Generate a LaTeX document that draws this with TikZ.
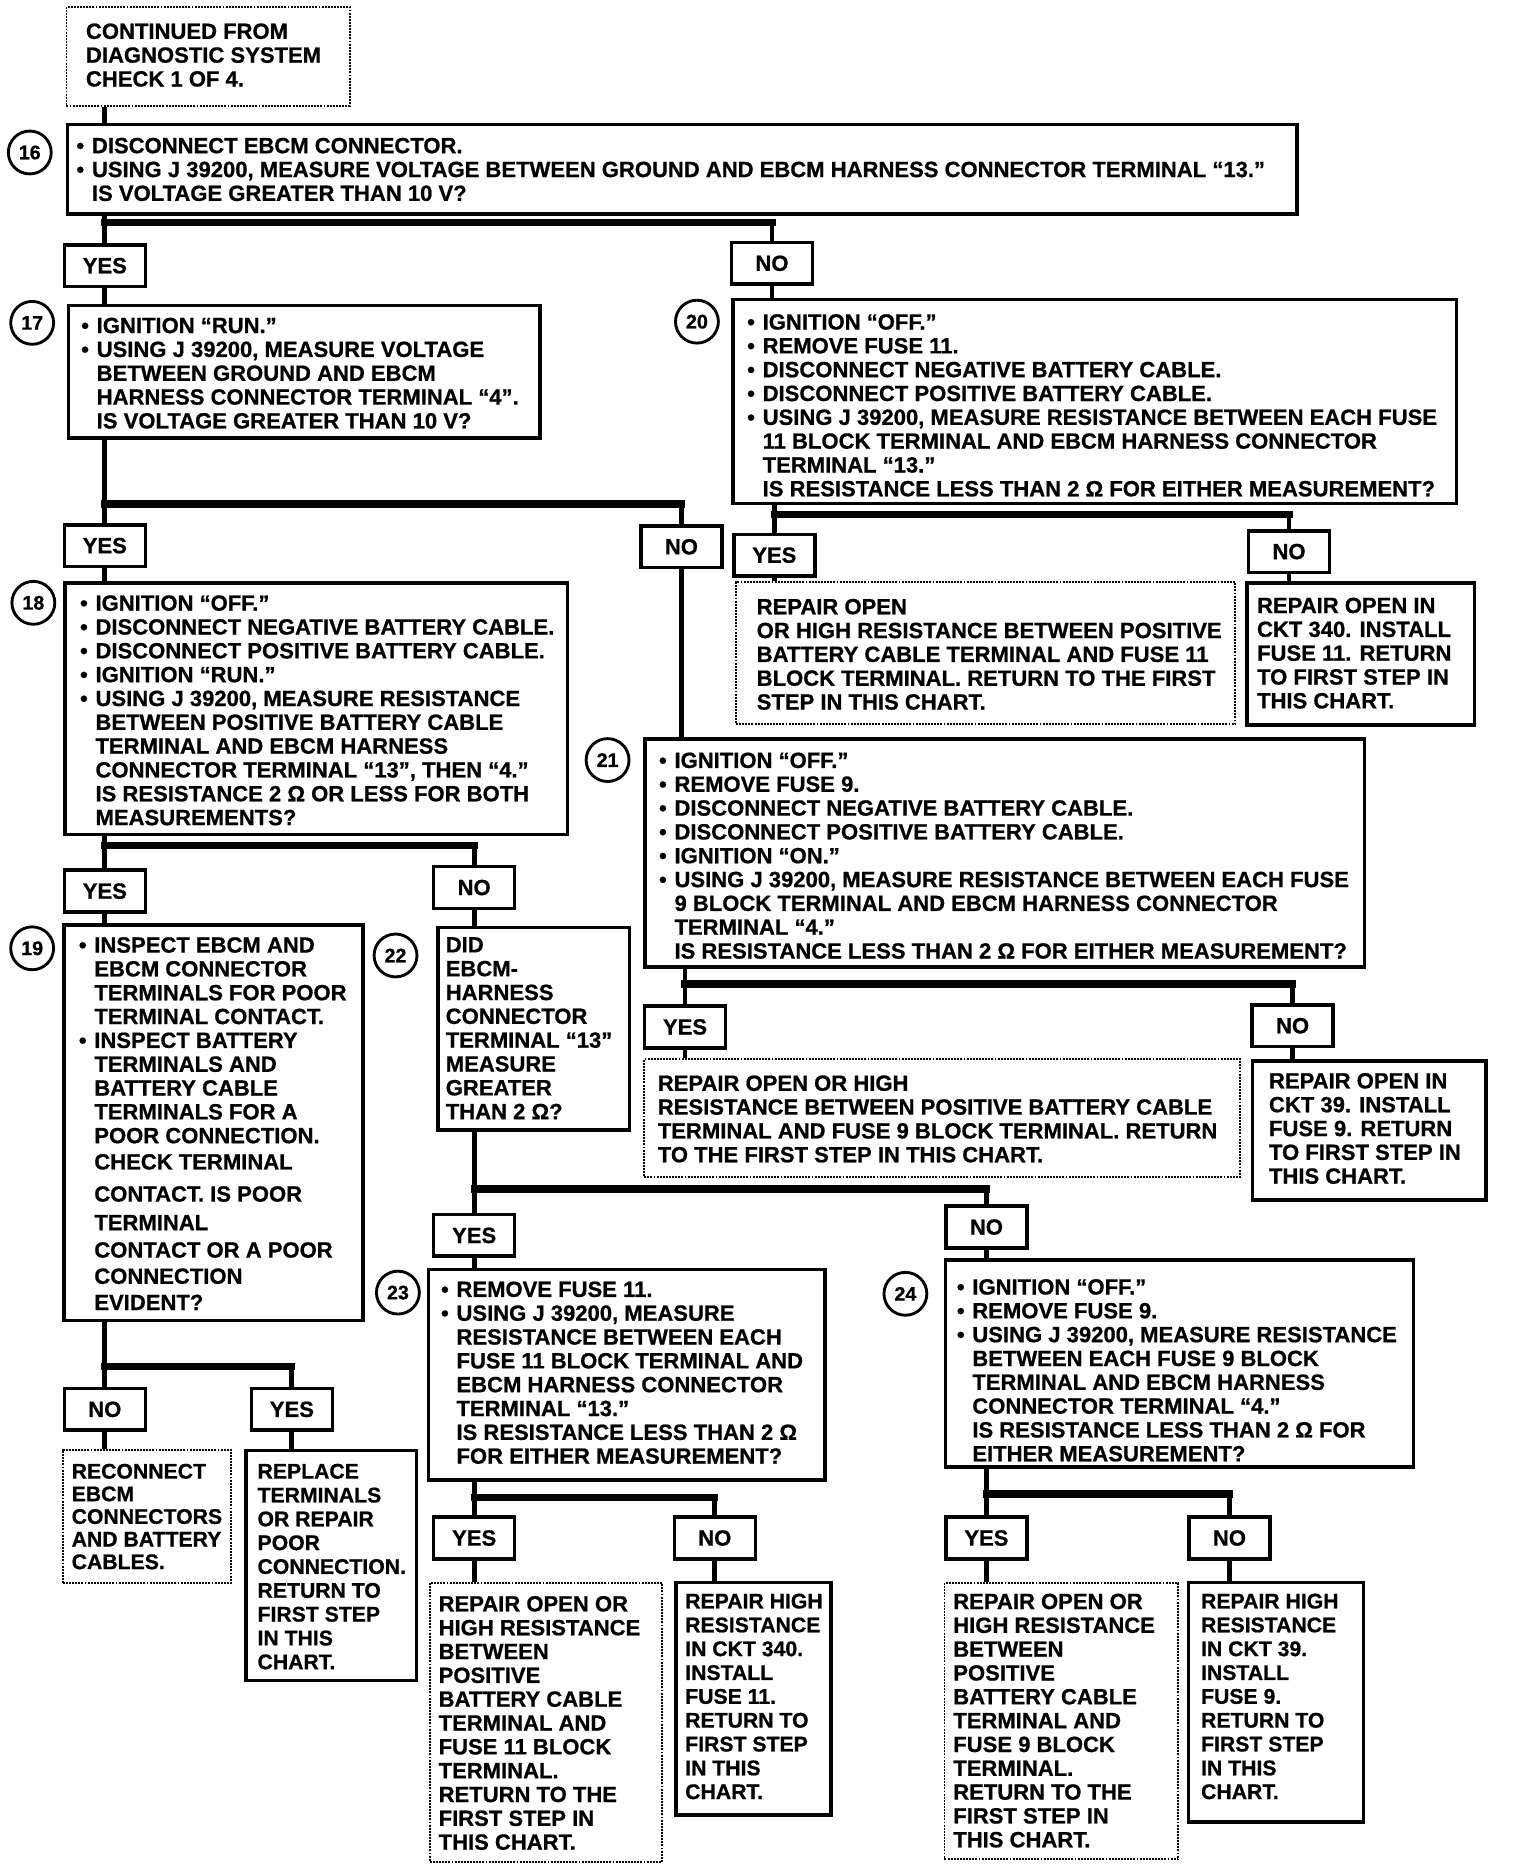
\documentclass[tikz,border=0pt]{standalone}
\usepackage{fontspec}
\setmainfont{Liberation Sans}[BoldFeatures={FakeBold=0.8}]
\newcommand{\bult}{\makebox[13pt][l]{•}}
\newcommand{\indt}{\hspace*{13pt}}
\begin{document}
\begin{tikzpicture}[x=1pt,y=-1pt,
  stepbox/.style={draw,line width=3pt,anchor=north west,inner sep=0pt},
  dotbox/.style={draw,line width=1.6pt,densely dotted,anchor=north west,inner sep=0pt},
  txt/.style={anchor=north west,inner sep=0pt,align=left,font=\fontsize{18.5}{20}\selectfont\bfseries},
  slim/.style={txt,font=\fontsize{17.8}{20}\selectfont\bfseries},
  ans/.style={draw,line width=3pt,minimum width=68pt,minimum height=35pt,inner sep=0pt,font=\fontsize{18.5}{20}\selectfont\bfseries},
  num/.style={draw,circle,line width=2.4pt,minimum size=36pt,inner sep=0pt,font=\fontsize{16.5}{17}\selectfont\bfseries},
  link/.style={line width=4pt},
  fork/.style={line width=6pt,line cap=rect}]
\useasboundingbox (0,0) rectangle (1276,1568);

% start
\node[dotbox,minimum width=238pt,minimum height=83pt] (s0) at (55,5) {};
\node[txt] (ts0) at (72,19.5) {CONTINUED FROM\\DIAGNOSTIC SYSTEM\\CHECK 1 OF 4.};

% step 16
\node[num] (c16) at (25,128) {16};
\node[stepbox,minimum width=1032pt,minimum height=75pt] (b16) at (55,103) {};
\node[txt] (t16) at (64,115.5) {\bult DISCONNECT EBCM CONNECTOR.\\
  \bult USING J 39200, MEASURE VOLTAGE BETWEEN GROUND AND EBCM HARNESS CONNECTOR TERMINAL “13.”\\
  \indt IS VOLTAGE GREATER THAN 10 V?};
\coordinate (k16) at (88,187);
\node[ans] (yes16) at (88,223) {YES};
\node[ans] (no16) at (648,221) {NO};

% step 17
\node[num] (c17) at (27,271) {17};
\node[stepbox,minimum width=396pt,minimum height=111pt] (b17) at (56,255) {};
\node[txt] (t17) at (68,266.5) {\bult IGNITION “RUN.”\\
  \bult USING J 39200, MEASURE VOLTAGE\\
  \indt BETWEEN GROUND AND EBCM\\
  \indt HARNESS CONNECTOR TERMINAL “4”.\\
  \indt IS VOLTAGE GREATER THAN 10 V?};
\coordinate (k17) at (88,423);
\node[ans] (yes17) at (88,458) {YES};
\node[ans] (no17) at (572,459) {NO};

% step 20
\node[num] (c20) at (585,270) {20};
\node[stepbox,minimum width=607pt,minimum height=171pt] (b20) at (614,250) {};
\node[txt] (t20) at (627,263.5) {\bult IGNITION “OFF.”\\
  \bult REMOVE FUSE 11.\\
  \bult DISCONNECT NEGATIVE BATTERY CABLE.\\
  \bult DISCONNECT POSITIVE BATTERY CABLE.\\
  \bult USING J 39200, MEASURE RESISTANCE BETWEEN EACH FUSE\\
  \indt 11 BLOCK TERMINAL AND EBCM HARNESS CONNECTOR\\
  \indt TERMINAL “13.”\\
  \indt IS RESISTANCE LESS THAN 2 Ω FOR EITHER MEASUREMENT?};
\coordinate (k20) at (650,432);
\node[ans] (yes20) at (650,466) {YES};
\node[ans] (no20) at (1082,463) {NO};
\node[dotbox,minimum width=419pt,minimum height=119pt] (r20y) at (617,488) {};
\node[txt] (tr20y) at (635,502.5) {REPAIR OPEN\\
  OR HIGH RESISTANCE BETWEEN POSITIVE\\
  BATTERY CABLE TERMINAL AND FUSE 11\\
  BLOCK TERMINAL. RETURN TO THE FIRST\\
  STEP IN THIS CHART.};
\node[stepbox,minimum width=191pt,minimum height=119pt] (r20n) at (1045,488) {};
\node[txt] (tr20n) at (1055,501.5) {REPAIR OPEN IN\\CKT 340. INSTALL\\FUSE 11. RETURN\\TO FIRST STEP IN\\THIS CHART.};

% step 18
\node[num] (c18) at (28,506) {18};
\node[stepbox,minimum width=422pt,minimum height=211pt] (b18) at (53,488) {};
\node[txt] (t18) at (67,499.5) {\bult IGNITION “OFF.”\\
  \bult DISCONNECT NEGATIVE BATTERY CABLE.\\
  \bult DISCONNECT POSITIVE BATTERY CABLE.\\
  \bult IGNITION “RUN.”\\
  \bult USING J 39200, MEASURE RESISTANCE\\
  \indt BETWEEN POSITIVE BATTERY CABLE\\
  \indt TERMINAL AND EBCM HARNESS\\
  \indt CONNECTOR TERMINAL “13”, THEN “4.”\\
  \indt IS RESISTANCE 2 Ω OR LESS FOR BOTH\\
  \indt MEASUREMENTS?};
\coordinate (k18) at (88,710);
\node[ans] (yes18) at (88,748) {YES};
\node[ans] (no18) at (398,745) {NO};

% step 21
\node[num] (c21) at (510,638) {21};
\node[stepbox,minimum width=604pt,minimum height=191pt] (b21) at (540,619) {};
\node[txt] (t21) at (553,631.5) {\bult IGNITION “OFF.”\\
  \bult REMOVE FUSE 9.\\
  \bult DISCONNECT NEGATIVE BATTERY CABLE.\\
  \bult DISCONNECT POSITIVE BATTERY CABLE.\\
  \bult IGNITION “ON.”\\
  \bult USING J 39200, MEASURE RESISTANCE BETWEEN EACH FUSE\\
  \indt 9 BLOCK TERMINAL AND EBCM HARNESS CONNECTOR\\
  \indt TERMINAL “4.”\\
  \indt IS RESISTANCE LESS THAN 2 Ω FOR EITHER MEASUREMENT?};
\coordinate (k21) at (575,826);
\node[ans] (yes21) at (575,862) {YES};
\node[ans] (no21) at (1085,861) {NO};
\node[dotbox,minimum width=500pt,minimum height=99pt] (r21y) at (540,888) {};
\node[txt] (tr21y) at (552,902.5) {REPAIR OPEN OR HIGH\\
  RESISTANCE BETWEEN POSITIVE BATTERY CABLE\\
  TERMINAL AND FUSE 9 BLOCK TERMINAL. RETURN\\
  TO THE FIRST STEP IN THIS CHART.};
\node[stepbox,minimum width=196pt,minimum height=117pt] (r21n) at (1050,889) {};
\node[txt] (tr21n) at (1065,900.5) {REPAIR OPEN IN\\CKT 39. INSTALL\\FUSE 9. RETURN\\TO FIRST STEP IN\\THIS CHART.};

% step 19
\node[num] (c19) at (27,796) {19};
\node[stepbox,minimum width=251pt,minimum height=332pt] (b19) at (52,775) {};
\node[txt] (t19) at (66,786.5) {\bult INSPECT EBCM AND\\
  \indt EBCM CONNECTOR\\
  \indt TERMINALS FOR POOR\\
  \indt TERMINAL CONTACT.\\
  \bult INSPECT BATTERY\\
  \indt TERMINALS AND\\
  \indt BATTERY CABLE\\
  \indt TERMINALS FOR A\\
  \indt POOR CONNECTION.\\[2pt]
  \indt CHECK TERMINAL\\[7pt]
  \indt CONTACT. IS POOR\\[4pt]
  \indt TERMINAL\\[3pt]
  \indt CONTACT OR A POOR\\[2pt]
  \indt CONNECTION\\[2pt]
  \indt EVIDENT?};
\coordinate (k19) at (88,1147);
\node[ans] (no19) at (88,1183) {NO};
\node[ans] (yes19) at (245,1183) {YES};
\node[dotbox,minimum width=141pt,minimum height=112pt] (r19n) at (52,1216) {};
\node[slim,font=\fontsize{17.8}{19}\selectfont\bfseries] (tr19n) at (60,1228.5) {RECONNECT\\EBCM\\CONNECTORS\\AND BATTERY\\CABLES.};
\node[stepbox,minimum width=143pt,minimum height=193pt] (r19y) at (205,1216) {};
\node[slim] (tr19y) at (216,1228.5) {REPLACE\\TERMINALS\\OR REPAIR\\POOR\\CONNECTION.\\RETURN TO\\FIRST STEP\\IN THIS\\CHART.};

% step 22
\node[num] (c22) at (332,802) {22};
\node[stepbox,minimum width=161pt,minimum height=170pt] (b22) at (366,777) {};
\node[txt] (t22) at (374,786.5) {DID\\EBCM-\\HARNESS\\CONNECTOR\\TERMINAL “13”\\MEASURE\\GREATER\\THAN 2 Ω?};
\coordinate (k22) at (398,998);
\node[ans] (yes22) at (398,1037) {YES};
\node[ans] (no22) at (828,1030) {NO};

% step 23
\node[num] (c23) at (334,1085) {23};
\node[stepbox,minimum width=333pt,minimum height=177pt] (b23) at (358,1064) {};
\node[txt] (t23) at (370,1075.5) {\bult REMOVE FUSE 11.\\
  \bult USING J 39200, MEASURE\\
  \indt RESISTANCE BETWEEN EACH\\
  \indt FUSE 11 BLOCK TERMINAL AND\\
  \indt EBCM HARNESS CONNECTOR\\
  \indt TERMINAL “13.”\\
  \indt IS RESISTANCE LESS THAN 2 Ω\\
  \indt FOR EITHER MEASUREMENT?};
\coordinate (k23) at (398,1257);
\node[ans] (yes23) at (398,1291) {YES};
\node[ans] (no23) at (600,1291) {NO};
\node[dotbox,minimum width=195pt,minimum height=234pt] (r23y) at (360,1328) {};
\node[txt] (tr23y) at (368,1339.5) {REPAIR OPEN OR\\HIGH RESISTANCE\\BETWEEN\\POSITIVE\\BATTERY CABLE\\TERMINAL AND\\FUSE 11 BLOCK\\TERMINAL.\\RETURN TO THE\\FIRST STEP IN\\THIS CHART.};
\node[stepbox,minimum width=130pt,minimum height=195pt] (r23n) at (566,1327) {};
\node[slim] (tr23n) at (575,1337.5) {REPAIR HIGH\\RESISTANCE\\IN CKT 340.\\INSTALL\\FUSE 11.\\RETURN TO\\FIRST STEP\\IN THIS\\CHART.};

% step 24
\node[num] (c24) at (760,1086) {24};
\node[stepbox,minimum width=393pt,minimum height=174pt] (b24) at (792,1056) {};
\node[txt] (t24) at (803,1073.5) {\bult IGNITION “OFF.”\\
  \bult REMOVE FUSE 9.\\
  \bult USING J 39200, MEASURE RESISTANCE\\
  \indt BETWEEN EACH FUSE 9 BLOCK\\
  \indt TERMINAL AND EBCM HARNESS\\
  \indt CONNECTOR TERMINAL “4.”\\
  \indt IS RESISTANCE LESS THAN 2 Ω FOR\\
  \indt EITHER MEASUREMENT?};
\coordinate (k24) at (828,1254);
\node[ans] (yes24) at (828,1291) {YES};
\node[ans] (no24) at (1032,1291) {NO};
\node[dotbox,minimum width=196pt,minimum height=232pt] (r24y) at (792,1328) {};
\node[txt] (tr24y) at (800,1337.5) {REPAIR OPEN OR\\HIGH RESISTANCE\\BETWEEN\\POSITIVE\\BATTERY CABLE\\TERMINAL AND\\FUSE 9 BLOCK\\TERMINAL.\\RETURN TO THE\\FIRST STEP IN\\THIS CHART.};
\node[stepbox,minimum width=147pt,minimum height=201pt] (r24n) at (996,1327) {};
\node[slim] (tr24n) at (1008,1337.5) {REPAIR HIGH\\RESISTANCE\\IN CKT 39.\\INSTALL\\FUSE 9.\\RETURN TO\\FIRST STEP\\IN THIS\\CHART.};

% connectors
\draw[link] (s0.south -| k16) -- (b16.north -| k16);
\draw[link] (b16.south -| k16) -- (yes16.north);
\draw[fork] (k16) -- (k16 -| no16);
\draw[link] (k16 -| no16) -- (no16.north);
\draw[link] (yes16.south) -- (b17.north -| yes16);
\draw[link] (no16.south) -- (b20.north -| no16);

\draw[link] (b17.south -| k17) -- (yes17.north);
\draw[fork] (k17) -- (k17 -| no17);
\draw[link] (k17 -| no17) -- (no17.north);
\draw[link] (yes17.south) -- (b18.north -| yes17);
\draw[link] (no17.south) -- (b21.north -| no17);

\draw[link] (b20.south -| k20) -- (yes20.north);
\draw[fork] (k20) -- (k20 -| no20);
\draw[link] (k20 -| no20) -- (no20.north);
\draw[link] (yes20.south) -- (r20y.north -| yes20);
\draw[link] (no20.south) -- (r20n.north -| no20);

\draw[link] (b18.south -| k18) -- (yes18.north);
\draw[fork] (k18) -- (k18 -| no18);
\draw[link] (k18 -| no18) -- (no18.north);
\draw[link] (yes18.south) -- (b19.north -| yes18);
\draw[link] (no18.south) -- (b22.north -| no18);

\draw[link] (b21.south -| k21) -- (yes21.north);
\draw[fork] (k21) -- (k21 -| no21);
\draw[link] (k21 -| no21) -- (no21.north);
\draw[link] (yes21.south) -- (r21y.north -| yes21);
\draw[link] (no21.south) -- (r21n.north -| no21);

\draw[link] (b19.south -| k19) -- (no19.north);
\draw[fork] (k19) -- (k19 -| yes19);
\draw[link] (k19 -| yes19) -- (yes19.north);
\draw[link] (no19.south) -- (r19n.north -| no19);
\draw[link] (yes19.south) -- (r19y.north -| yes19);

\draw[link] (b22.south -| k22) -- (yes22.north);
\draw[fork] (k22) -- (k22 -| no22);
\draw[link] (k22 -| no22) -- (no22.north);
\draw[link] (yes22.south) -- (b23.north -| yes22);
\draw[link] (no22.south) -- (b24.north -| no22);

\draw[link] (b23.south -| k23) -- (yes23.north);
\draw[fork] (k23) -- (k23 -| no23);
\draw[link] (k23 -| no23) -- (no23.north);
\draw[link] (yes23.south) -- (r23y.north -| yes23);
\draw[link] (no23.south) -- (r23n.north -| no23);

\draw[link] (b24.south -| k24) -- (yes24.north);
\draw[fork] (k24) -- (k24 -| no24);
\draw[link] (k24 -| no24) -- (no24.north);
\draw[link] (yes24.south) -- (r24y.north -| yes24);
\draw[link] (no24.south) -- (r24n.north -| no24);
\end{tikzpicture}
\end{document}
